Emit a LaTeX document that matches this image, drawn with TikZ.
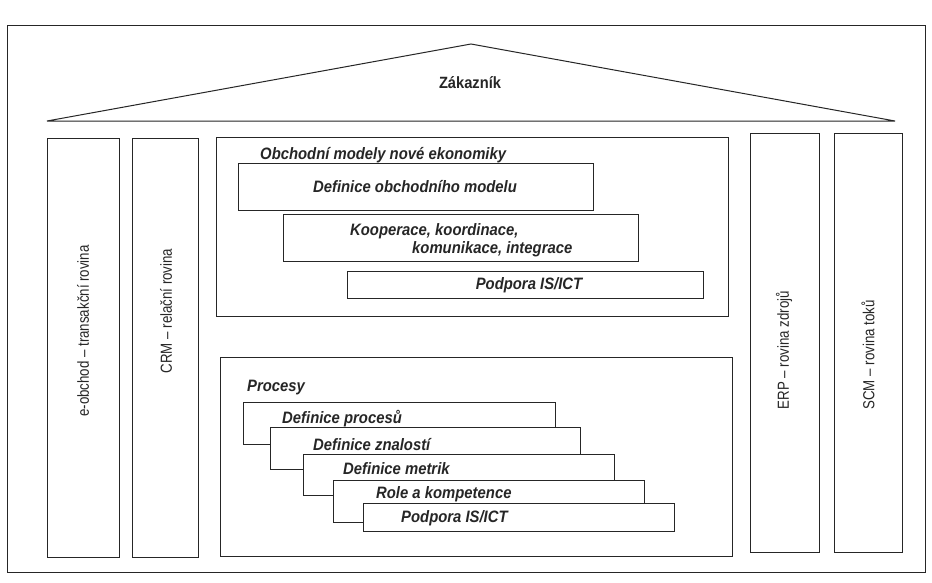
\documentclass[tikz,border=0pt]{standalone}
\usepackage{fontspec}
\setmainfont{Liberation Sans}
\newfontfamily\condfont[FakeStretch=0.9]{Liberation Sans}
\newfontfamily\pillfont[FakeStretch=0.83]{Liberation Sans}
\tikzstyle{frame} = [draw, line width=1pt, color=black!85]
\tikzstyle{myBox} = [rectangle, draw, line width=1pt, color=black!85, fill=white, inner sep=0pt, outer sep=0pt, anchor=north west]
\tikzstyle{boxText} = [font=\condfont\fontsize{16.5}{18}\selectfont\bfseries\itshape, text=black!85, anchor=west, inner sep=0pt]
\tikzstyle{pillarText} = [font=\pillfont\fontsize{16}{18}\selectfont, text=black!85, rotate=90, inner sep=0pt]

\begin{document}
\begin{tikzpicture}[x=1pt,y=-1pt]
		\useasboundingbox (0,0) rectangle (932,582);
		% ramec a strecha
		\node [myBox, minimum width=918pt, minimum height=547pt](ram) at (7,25) {};
		\coordinate (sL) at (47,121);
		\coordinate (sT) at (471,44);
		\coordinate (sR) at (895,121);
		\draw [frame] (sL) -- (sT) -- (sR) -- cycle;
		\node [font=\condfont\fontsize{16.3}{18}\selectfont\bfseries, text=black!85](zak) at (470,83) {Zákazník};
		
		% pilire
		\node [myBox, minimum width=72pt, minimum height=419pt](p1) at (47,138) {};
		\node [myBox, minimum width=66pt, minimum height=419pt](p2) at (132,138) {};
		\node [myBox, minimum width=69pt, minimum height=419pt](p3) at (750,133) {};
		\node [myBox, minimum width=68pt, minimum height=419pt](p4) at (834,133) {};
		\node [pillarText](t1) at (83,331) {e-obchod – transakční rovina};
		\node [pillarText](t2) at (166,311) {CRM – relační rovina};
		\node [pillarText](t3) at (784,350) {ERP – rovina zdrojů};
		\node [pillarText](t4) at (868,355) {SCM – rovina toků};
		
		% obchodni modely
		\node [myBox, minimum width=512pt, minimum height=179pt](m1) at (216,137) {};
		\node [boxText](m1t) at (260,155) {Obchodní modely nové ekonomiky};
		\node [myBox, minimum width=355pt, minimum height=47pt](d1) at (238,163) {};
		\node [boxText, anchor=center](d1t) at (415,187) {Definice obchodního modelu};
		\node [myBox, minimum width=355pt, minimum height=47pt](d2) at (283,214) {};
		\node [boxText, anchor=base west, align=left](d2t) at (350,253) {Kooperace, koordinace,\\\hspace*{62pt}komunikace, integrace};
		\node [myBox, minimum width=356pt, minimum height=27pt](d3) at (347,271) {};
		\node [boxText, anchor=center](d3t) at (529,285) {Podpora IS/ICT};
		
		% procesy
		\node [myBox, minimum width=512pt, minimum height=199pt](m2) at (220,357) {};
		\node [boxText](m2t) at (247,388) {Procesy};
		\node [myBox, minimum width=312pt, minimum height=42pt](b1) at (243,402) {};
		\node [boxText](b1t) at (282,419) {Definice procesů};
		\node [myBox, minimum width=310pt, minimum height=42pt](b2) at (270,427) {};
		\node [boxText](b2t) at (313,445) {Definice znalostí};
		\node [myBox, minimum width=311pt, minimum height=41pt](b3) at (303,454) {};
		\node [boxText](b3t) at (343,469) {Definice metrik};
		\node [myBox, minimum width=311pt, minimum height=42pt](b4) at (333,480) {};
		\node [boxText](b4t) at (376,494) {Role a kompetence};
		\node [myBox, minimum width=311pt, minimum height=28pt](b5) at (363,503) {};
		\node [boxText](b5t) at (401,518) {Podpora IS/ICT};
		
\end{tikzpicture}
\end{document}
